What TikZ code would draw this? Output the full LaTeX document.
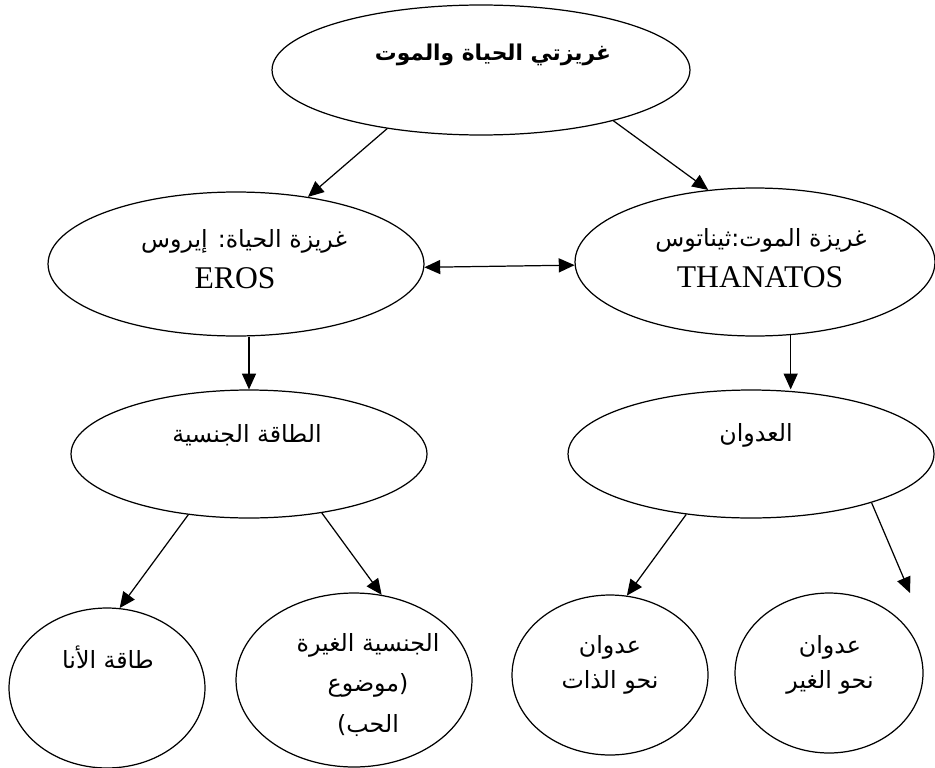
\documentclass[tikz,border=0pt]{standalone}
\usepackage{fontspec}
\setmainfont{Liberation Serif}
\newfontfamily\arabicfont[Script=Arabic]{DejaVu Sans}
\TeXXeTstate=1
\usetikzlibrary{shapes.geometric, arrows.meta, positioning}
\newcommand{\artxt}[1]{\beginR #1\endR}

\begin{document}
\begin{tikzpicture}[x=0.02cm, y=-0.02cm,
  bubble/.style={ellipse, draw, line width=0.7pt, inner sep=0pt},
  artext/.style={font=\arabicfont\fontsize{13.5}{23}\selectfont, align=center},
  latext/.style={font=\fontsize{18}{20}\selectfont},
  arrow/.style={-{Triangle[length=9pt, width=8pt]}, line width=0.7pt},
  biarrow/.style={{Triangle[length=9pt, width=8pt]}-{Triangle[length=9pt, width=8pt]}, line width=0.7pt},
]
  \useasboundingbox (0,0) rectangle (935,767);

  \node[bubble, minimum width=8.36cm, minimum height=2.6cm] (root) at (481,70) {};
  \node[bubble, minimum width=7.52cm, minimum height=2.88cm] (eros) at (236,264) {};
  \node[bubble, minimum width=7.2cm, minimum height=2.96cm] (thanatos) at (755,262) {};
  \node[bubble, minimum width=7.12cm, minimum height=2.56cm] (taqa) at (249,454) {};
  \node[bubble, minimum width=7.32cm, minimum height=2.56cm] (udwan) at (751,454) {};
  \node[bubble, minimum width=3.92cm, minimum height=3.2cm] (ana) at (107,688) {};
  \node[bubble, minimum width=4.72cm, minimum height=3.48cm] (ghayra) at (354,680) {};
  \node[bubble, minimum width=3.92cm, minimum height=3.2cm] (dhat) at (610,675) {};
  \node[bubble, minimum width=3.76cm, minimum height=3.2cm] (ghayr) at (829,673) {};

  \node[artext, font=\arabicfont\bfseries\fontsize{12.4}{23}\selectfont] (rootT) at (493,55) {\artxt{غريزتي الحياة والموت}};
  \node[artext] (erosA) at (244,241) {\artxt{غريزة الحياة: إيروس}};
  \node[latext] (erosL) at (235,278) {EROS};
  \node[artext] (thanA) at (761,240) {\artxt{غريزة الموت:ثيناتوس}};
  \node[latext] (thanL) at (760,277) {THANATOS};
  \node[artext] (taqaT) at (247,435) {\artxt{الطاقة الجنسية}};
  \node[artext] (udwanT) at (756,435) {\artxt{العدوان}};
  \node[artext] (anaT) at (108,657) {\artxt{طاقة الأنا}};
  \node[artext] (ghayraT) at (368,685) {\artxt{الجنسية الغيرة}\\\artxt{موضوع}(\\)\artxt{الحب}};
  \node[artext, font=\arabicfont\fontsize{13.5}{20}\selectfont] (dhatT) at (610,665) {\artxt{عدوان}\\\artxt{نحو الذات}};
  \node[artext, font=\arabicfont\fontsize{13.5}{20}\selectfont] (ghayrT) at (830,665) {\artxt{عدوان}\\\artxt{نحو الغير}};

  \coordinate (ghayrTip) at (910,593);

  \draw[arrow] (root.212) -- (eros.43);
  \draw[arrow] (root.339) -- (thanatos.123);
  \draw[biarrow] (eros.-1.5) -- (thanatos.181.8);
  \draw[arrow] (eros.south -| taqa.north) -- (taqa.north);
  \draw[arrow] (thanatos.296) -- (thanatos.296 |- udwan.north);
  \draw[arrow] (taqa.225) -- (ana.81);
  \draw[arrow] (taqa.321) -- (ghayra.72);
  \draw[arrow] (udwan.223) -- (dhat.78);
  \draw[arrow] (udwan.338) -- (ghayrTip);
\end{tikzpicture}
\end{document}
